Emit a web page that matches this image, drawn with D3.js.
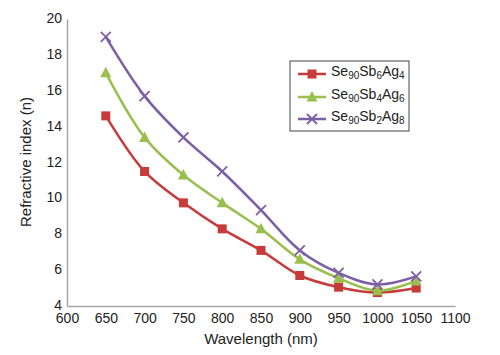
<!DOCTYPE html>
<html><head><meta charset="utf-8">
<script src="https://cdn.jsdelivr.net/npm/d3@7"></script>
<style>body{margin:0;background:#fff}svg{display:block}text{font-family:Arial,"Liberation Sans",sans-serif}</style>
</head><body>
<svg id="c" width="500" height="355"></svg>
<script>
const wavelengths = [650,700,750,800,850,900,950,1000,1050];
const seriesA = [14.6,11.5,9.75,8.3,7.1,5.7,5.05,4.75,5.0];   // Se90Sb6Ag4
const seriesB = [17.0,13.4,11.3,9.75,8.3,6.6,5.55,4.85,5.4];  // Se90Sb4Ag6
const seriesC = [19.0,15.7,13.4,11.5,9.35,7.1,5.85,5.2,5.65]; // Se90Sb2Ag8
const xTicks = [600,650,700,750,800,850,900,950,1000,1050,1100];
const yTicks = [4,6,8,10,12,14,16,18,20];
const seriesNames = [
  [["Se",""],["90","sub"],["Sb",""],["6","sub"],["Ag",""],["4","sub"]],
  [["Se",""],["90","sub"],["Sb",""],["4","sub"],["Ag",""],["6","sub"]],
  [["Se",""],["90","sub"],["Sb",""],["2","sub"],["Ag",""],["8","sub"]]
];
const colors = ["#c73b3b","#99bf4f","#7d5fa6"];
const markers = ["square","triangle","x"];
const series = [seriesA,seriesB,seriesC];

const svg = d3.select("#c");
const x = d3.scaleLinear().domain([600,1100]).range([67,455]);
const y = d3.scaleLinear().domain([4,20]).range([306,19]);

// axes
const xAxis = svg.append("g").attr("transform","translate(0,306)")
  .call(d3.axisBottom(x).tickValues(xTicks).tickSize(0).tickPadding(7).tickFormat(d3.format("d")));
const yAxis = svg.append("g").attr("transform","translate(67,0)")
  .call(d3.axisLeft(y).tickValues(yTicks).tickSize(0).tickPadding(5).tickFormat(d3.format("d")));
[xAxis,yAxis].forEach(a=>{
  a.select(".domain").attr("stroke","#a6a6a6").attr("stroke-width",1.5);
  a.selectAll("text").attr("font-size",14).attr("fill","#222").attr("font-family","Arial, 'Liberation Sans', sans-serif");
});
xAxis.selectAll("text").attr("dy","0.7em");
yAxis.selectAll("text").attr("dy","0.25em");

svg.append("text").attr("x",261).attr("y",344).attr("text-anchor","middle")
  .attr("font-size",15).attr("fill","#222").text("Wavelength (nm)");
svg.append("text").attr("transform","translate(31,162) rotate(-90)").attr("text-anchor","middle")
  .attr("font-size",15).attr("fill","#222").text("Refractive index (n)");

const line = d3.line().x((d,i)=>x(wavelengths[i])).y(d=>y(d)).curve(d3.curveCatmullRom.alpha(0.5));

function drawMarker(g, type, cx, cy, color){
  if(type==="square"){
    g.append("rect").attr("x",cx-4.5).attr("y",cy-4.5).attr("width",9).attr("height",9).attr("fill",color);
  } else if(type==="triangle"){
    g.append("path").attr("d",`M${cx},${cy-6}L${cx+5.5},${cy+4.5}L${cx-5.5},${cy+4.5}Z`).attr("fill",color);
  } else {
    g.append("path").attr("d",`M${cx-5},${cy-5}L${cx+5},${cy+5}M${cx-5},${cy+5}L${cx+5},${cy-5}`)
      .attr("stroke",color).attr("stroke-width",1.8);
  }
}

series.forEach((s,k)=>{
  svg.append("path").datum(s).attr("d",line).attr("fill","none")
    .attr("stroke",colors[k]).attr("stroke-width",2.5);
  const g = svg.append("g");
  s.forEach((v,i)=>drawMarker(g, markers[k], x(wavelengths[i]), y(v), colors[k]));
});

// legend
const lg = svg.append("g");
lg.append("rect").attr("x",290).attr("y",61).attr("width",119).attr("height",70)
  .attr("fill","#fff").attr("stroke","#444").attr("stroke-width",1);
const ly = [74,97,119];
seriesNames.forEach((parts,k)=>{
  lg.append("line").attr("x1",298).attr("x2",326).attr("y1",ly[k]).attr("y2",ly[k])
    .attr("stroke",colors[k]).attr("stroke-width",2.5);
  drawMarker(lg, markers[k], 312, ly[k], colors[k]);
  const t = lg.append("text").attr("x",331).attr("y",ly[k]+5).attr("font-size",14).attr("fill","#222");
  parts.forEach(([txt,kind])=>{
    if(kind==="sub"){
      t.append("tspan").attr("font-size",10).attr("dy",3).text(txt);
    } else {
      t.append("tspan").attr("dy", t.selectAll("tspan").size()?-3:0).text(txt);
    }
  });
});
</script>
</body></html>
